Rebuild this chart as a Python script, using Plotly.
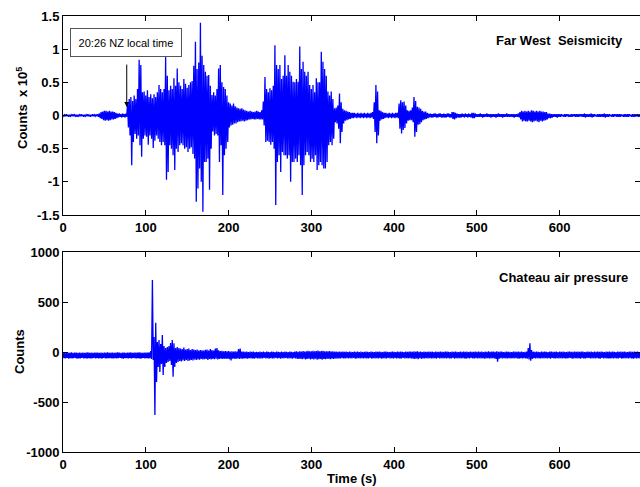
import numpy as np
import plotly.graph_objects as go

# Sample times (s), one envelope reading every 2 s
SAMPLE_STEP = 2
N_SAMPLES = 350

# Far West seismicity envelope, units of 1e3 counts (upper / lower extreme per 2 s)
SEIS_HI = [
    1, 1, 2, 1, 1, 1, 2, 1, 1, 1,
    1, 2, 1, 1, 1, 2, 1, 1, 2, 1,
    1, 2, 3, 5, 6, 7, 7, 6, 7, 6,
    6, 5, 4, 3, 3, 2, 3, 2, 3, 20,
    25, 28, 22, 30, 25, 40, 84, 76, 35, 36,
    30, 38, 28, 32, 26, 32, 28, 35, 46, 40,
    35, 40, 88, 60, 38, 45, 40, 56, 45, 71,
    50, 45, 40, 55, 48, 42, 46, 50, 52, 75,
    111, 70, 80, 140, 90, 76, 66, 60, 61, 45,
    31, 35, 30, 40, 71, 76, 50, 43, 40, 30,
    20, 18, 15, 18, 14, 12, 11, 10, 11, 9,
    8, 7, 6, 7, 6, 5, 6, 7, 6, 5,
    8, 21, 58, 40, 35, 41, 38, 45, 106, 76,
    70, 76, 55, 60, 91, 60, 76, 66, 60, 51,
    50, 55, 51, 104, 70, 81, 66, 60, 66, 46,
    40, 46, 35, 56, 50, 50, 96, 81, 70, 60,
    36, 30, 36, 25, 11, 12, 15, 33, 20, 10,
    8, 7, 6, 5, 4, 4, 4, 3, 4, 3,
    4, 3, 4, 3, 4, 3, 4, 5, 20, 46,
    36, 8, 7, 5, 4, 4, 3, 4, 3, 4,
    3, 4, 4, 18, 23, 20, 21, 15, 8, 7,
    8, 12, 28, 22, 13, 12, 10, 7, 6, 6,
    4, 3, 3, 2, 3, 3, 2, 3, 3, 2,
    3, 2, 3, 3, 2, 5, 5, 4, 3, 2,
    2, 3, 2, 3, 2, 3, 2, 4, 4, 3,
    2, 2, 3, 2, 2, 2, 3, 2, 2, 2,
    2, 2, 2, 3, 2, 2, 2, 2, 3, 2,
    2, 2, 2, 2, 2, 3, 5, 7, 6, 7,
    6, 7, 6, 8, 7, 6, 7, 6, 7, 6,
    6, 5, 5, 3, 3, 2, 2, 2, 2, 2,
    2, 2, 1, 2, 2, 2, 1, 2, 2, 2,
    2, 2, 2, 2, 2, 3, 2, 2, 2, 3,
    2, 2, 1, 2, 2, 2, 2, 3, 2, 2,
    2, 1, 2, 2, 2, 2, 2, 2, 1, 2,
    2, 2, 2, 1, 2, 2, 2, 2, 2, 2,
]
SEIS_LO = [
    -1, -1, -1, -2, -1, -1, -1, -1, -2, -1,
    -1, -1, -2, -1, -1, -1, -2, -1, -1, -1,
    -1, -2, -4, -5, -7, -8, -7, -8, -7, -6,
    -6, -5, -4, -3, -2, -3, -2, -3, -2, -18,
    -30, -75, -40, -28, -35, -30, -45, -62, -35, -30,
    -32, -44, -30, -35, -49, -38, -30, -35, -40, -45,
    -40, -45, -97, -85, -45, -50, -60, -82, -50, -55,
    -45, -42, -45, -50, -48, -55, -50, -48, -58, -65,
    -130, -110, -80, -100, -145, -70, -70, -65, -112, -50,
    -24, -30, -28, -30, -70, -45, -120, -60, -50, -40,
    -18, -15, -14, -12, -12, -10, -9, -9, -8, -9,
    -8, -7, -6, -6, -5, -6, -6, -5, -6, -6,
    -6, -15, -40, -38, -40, -44, -40, -50, -135, -70,
    -60, -85, -55, -60, -60, -65, -60, -100, -70, -70,
    -65, -70, -60, -75, -120, -75, -60, -55, -60, -70,
    -65, -70, -60, -82, -75, -70, -75, -80, -80, -70,
    -45, -40, -45, -35, -10, -12, -20, -42, -25, -12,
    -8, -7, -6, -5, -4, -4, -3, -4, -3, -4,
    -3, -4, -3, -4, -3, -4, -3, -5, -25, -42,
    -30, -8, -6, -5, -4, -3, -4, -3, -4, -3,
    -4, -3, -4, -20, -27, -22, -19, -12, -8, -7,
    -7, -10, -32, -25, -14, -13, -10, -7, -6, -5,
    -4, -3, -3, -3, -2, -3, -3, -2, -3, -3,
    -3, -3, -2, -3, -3, -5, -6, -4, -3, -3,
    -3, -2, -3, -2, -3, -2, -3, -4, -4, -2,
    -2, -2, -2, -3, -2, -2, -2, -2, -3, -2,
    -2, -3, -2, -2, -2, -3, -2, -2, -2, -2,
    -2, -2, -3, -2, -2, -3, -6, -9, -8, -9,
    -9, -8, -9, -10, -9, -8, -9, -10, -8, -9,
    -8, -7, -6, -4, -4, -3, -2, -2, -3, -2,
    -2, -1, -2, -2, -1, -2, -2, -2, -1, -2,
    -2, -2, -1, -2, -2, -3, -2, -2, -2, -3,
    -2, -1, -2, -2, -2, -2, -2, -3, -2, -2,
    -1, -2, -2, -1, -2, -2, -2, -1, -2, -2,
    -2, -2, -1, -2, -2, -2, -1, -2, -2, -2,
]

# Chateau air pressure envelope, counts (upper / lower extreme per 2 s)
AIR_HI = [
    -8, -5, -10, -6, -8, -4, -9, -7, -5, -8,
    -6, -9, -5, -8, -7, -4, -8, -6, -9, -5,
    -7, -5, -8, -6, -9, -5, -7, -4, -8, -6,
    -5, -8, -6, -4, -7, -9, -5, -6, -8, -5,
    -6, -4, -8, -5, -7, -6, -3, -5, -8, -6,
    -5, -6, -3, 10, 720, 150, 293, 100, 120, 80,
    170, 60, 40, 50, 60, 90, 120, 87, 40, 50,
    40, 35, 30, 45, 25, 30, 35, 20, 30, 25,
    20, 25, 15, 20, 18, 15, 22, 25, 15, 30,
    20, 15, 35, 40, 18, 10, 12, 8, 10, 6,
    10, 5, 8, 5, 6, 4, 30, 35, 5, 3,
    2, 4, 0, 3, 1, 5, 0, 2, -2, 3,
    0, 3, -2, 4, 1, -1, 5, 2, 0, 3,
    2, -1, 4, 0, 3, 1, -2, 5, 2, 0,
    3, 6, 2, 8, 4, 10, 5, 8, 12, 6,
    8, 12, 6, 10, 14, 7, 9, 11, 6, 8,
    6, 9, 4, 7, 3, 5, 2, 4, 1, 3,
    1, 3, 0, 4, 2, -1, 3, 1, 4, 0,
    3, 0, 2, 5, 1, -1, 4, 2, 0, 3,
    1, 4, 2, 0, 3, 5, 1, -1, 2, 4,
    2, 0, 3, 1, 5, 2, -1, 4, 1, 3,
    4, 1, 6, 3, 8, 2, 5, 0, 3, 1,
    2, 4, 1, 3, 0, 5, 2, 1, 4, 2,
    1, 3, 5, 2, 0, 4, 1, 3, 2, 0,
    3, 1, 4, 2, 5, 0, 3, 2, 1, 4,
    2, 5, 1, 3, 0, 4, 2, 6, 1, 3,
    4, 2, 8, 1, 3, 5, 0, 2, 4, 1,
    2, 0, 3, 5, 1, 4, 2, 3, 0, 2,
    5, 40, 87, 20, 3, 1, 4, 2, 0, 3,
    1, 4, 2, 0, 3, 5, 1, 2, 4, 0,
    3, 1, 4, 2, 0, 3, 5, 1, 2, 4,
    2, 4, 1, 3, 5, 0, 2, 4, 1, 3,
    0, 3, 2, 5, 1, 4, 2, 0, 3, 1,
    4, 1, 3, 2, 0, 5, 2, 3, 1, 4,
    2, 0, 3, 4, 1, 3, 2, 5, 0, 2,
]
AIR_LO = [
    -62, -65, -60, -66, -61, -64, -62, -60, -66, -63,
    -64, -60, -63, -62, -66, -61, -63, -65, -60, -64,
    -61, -64, -62, -66, -60, -63, -65, -61, -62, -64,
    -63, -61, -65, -62, -60, -64, -66, -62, -61, -63,
    -62, -65, -60, -64, -63, -61, -66, -63, -60, -64,
    -62, -64, -63, -70, -80, -630, -300, -150, -200, -120,
    -230, -150, -110, -100, -90, -130, -247, -150, -110, -100,
    -90, -95, -85, -90, -80, -90, -85, -80, -85, -75,
    -80, -75, -78, -70, -75, -72, -70, -80, -70, -75,
    -70, -72, -68, -75, -70, -68, -70, -66, -70, -68,
    -72, -85, -68, -66, -70, -65, -70, -68, -66, -64,
    -64, -66, -62, -65, -63, -66, -62, -64, -63, -65,
    -63, -60, -65, -62, -66, -61, -64, -63, -60, -65,
    -62, -66, -61, -64, -60, -65, -63, -62, -66, -61,
    -64, -68, -70, -66, -72, -68, -75, -70, -68, -74,
    -70, -75, -68, -78, -72, -70, -76, -69, -73, -70,
    -68, -72, -66, -70, -64, -67, -63, -65, -62, -64,
    -63, -61, -65, -62, -64, -60, -66, -63, -61, -64,
    -62, -65, -61, -64, -63, -60, -66, -62, -64, -61,
    -64, -62, -66, -61, -63, -65, -60, -64, -62, -63,
    -61, -64, -62, -66, -63, -60, -65, -62, -64, -61,
    -63, -66, -70, -64, -72, -62, -68, -63, -65, -62,
    -64, -61, -65, -63, -62, -66, -60, -64, -62, -63,
    -62, -65, -61, -64, -63, -60, -66, -62, -64, -61,
    -63, -61, -64, -66, -62, -65, -60, -63, -64, -62,
    -65, -62, -64, -61, -66, -63, -62, -64, -65, -61,
    -63, -70, -97, -66, -62, -64, -61, -65, -63, -62,
    -64, -62, -65, -61, -63, -66, -62, -64, -61, -63,
    -66, -75, -87, -70, -62, -64, -61, -63, -65, -62,
    -63, -61, -64, -62, -66, -60, -63, -65, -62, -64,
    -62, -65, -61, -63, -64, -62, -60, -66, -63, -61,
    -64, -62, -66, -61, -63, -65, -62, -60, -64, -63,
    -61, -64, -62, -63, -66, -60, -65, -62, -63, -64,
    -63, -61, -64, -62, -65, -63, -60, -66, -62, -63,
    -62, -64, -61, -63, -66, -62, -64, -61, -63, -65,
]

SEIS_TICKS = [-1.5, -1, -0.5, 0, 0.5, 1, 1.5]
SEIS_TICKTEXT = ["-1.5", "-1", "-0.5", "0", "0.5", "1", "1.5"]
AIR_TICKS = [-1000, -500, 0, 500, 1000]
AIR_TICKTEXT = ["-1000", "-500", "0", "500", "1000"]
X_TICKS = [0, 100, 200, 300, 400, 500, 600]

for arr in (SEIS_HI, SEIS_LO, AIR_HI, AIR_LO):
    assert len(arr) == N_SAMPLES, len(arr)

t = np.arange(N_SAMPLES) * SAMPLE_STEP


def zigzag(hi, lo):
    """Draw each 2 s envelope reading as one up-stroke and one down-stroke."""
    x = np.empty(2 * N_SAMPLES)
    y = np.empty(2 * N_SAMPLES)
    x[0::2] = t
    x[1::2] = t + SAMPLE_STEP / 2
    y[0::2] = hi
    y[1::2] = lo
    return x, y


sx, sy = zigzag(np.array(SEIS_HI) / 100.0, np.array(SEIS_LO) / 100.0)  # -> units of 1e5
ax_, ay_ = zigzag(np.array(AIR_HI, float), np.array(AIR_LO, float))

BLUE = "#0000FF"
FONT = "Liberation Sans, Arial, sans-serif"

fig = go.Figure()
fig.add_trace(go.Scatter(x=sx, y=sy, mode="lines", line=dict(color=BLUE, width=1.3),
                         xaxis="x", yaxis="y", showlegend=False, hoverinfo="skip"))
fig.add_trace(go.Scatter(x=ax_, y=ay_, mode="lines", line=dict(color=BLUE, width=1.3),
                         xaxis="x2", yaxis="y2", showlegend=False, hoverinfo="skip"))

W, H = 640, 487
L, R, T, B = 63, 0, 16, 35
plot_h = H - T - B
top_dom = [(452 - 215) / plot_h, 1.0]
bot_dom = [0.0, (452 - 252) / plot_h]

axis_common = dict(
    showline=True, linecolor="black", linewidth=1, mirror="ticks",
    ticks="inside", ticklen=5, tickcolor="black", tickwidth=1,
    showgrid=False, zeroline=False,
    tickfont=dict(family=FONT, size=13, color="black", weight="bold"),
)
XMAX = 697

fig.update_layout(
    width=W, height=H,
    margin=dict(l=L, r=R, t=T, b=B),
    paper_bgcolor="white", plot_bgcolor="white",
    font=dict(family=FONT, color="black"),
    xaxis=dict(domain=[0, 1], anchor="y", range=[0, XMAX], tickvals=X_TICKS, **axis_common),
    yaxis=dict(domain=top_dom, anchor="x", range=[-1.5, 1.5], tickvals=SEIS_TICKS,
               ticktext=SEIS_TICKTEXT, **axis_common),
    xaxis2=dict(domain=[0, 1], anchor="y2", range=[0, XMAX], tickvals=X_TICKS, **axis_common),
    yaxis2=dict(domain=bot_dom, anchor="x2", range=[-1000, 1000], tickvals=AIR_TICKS,
                ticktext=AIR_TICKTEXT, **axis_common),
)

pw = W - L - R


def px_to_paper_x(px):
    return (px - L) / pw


def px_to_paper_y(py):
    return (H - B - py) / plot_h


bold13 = dict(family=FONT, size=13, color="black", weight="bold")
annotations = [
    dict(text="Counts&nbsp; x 10<sup>5</sup>", textangle=-90, x=px_to_paper_x(22), y=px_to_paper_y(108),
         xref="paper", yref="paper", showarrow=False, font=bold13, xanchor="center", yanchor="middle"),
    dict(text="Counts", textangle=-90, x=px_to_paper_x(19), y=px_to_paper_y(352),
         xref="paper", yref="paper", showarrow=False, font=bold13, xanchor="center", yanchor="middle"),
    dict(text="Time (s)", x=px_to_paper_x(352), y=px_to_paper_y(478),
         xref="paper", yref="paper", showarrow=False, font=bold13, xanchor="center", yanchor="middle"),
    dict(text="Far West&nbsp; Seismicity", x=px_to_paper_x(625), y=px_to_paper_y(40),
         xref="paper", yref="paper", showarrow=False, font=bold13, xanchor="right", yanchor="middle"),
    dict(text="Chateau air pressure", x=px_to_paper_x(630), y=px_to_paper_y(277),
         xref="paper", yref="paper", showarrow=False, font=bold13, xanchor="right", yanchor="middle"),
    dict(text="20:26 NZ local time", x=px_to_paper_x(126), y=px_to_paper_y(42.5),
         xref="paper", yref="paper", showarrow=False,
         font=dict(family=FONT, size=11, color="black"),
         xanchor="center", yanchor="middle", width=108, height=25,
         bordercolor="#555555", borderwidth=1, borderpad=1, bgcolor="white"),
    dict(x=77, y=0.13, ax=77, ay=0.79, xref="x", yref="y", axref="x", ayref="y",
         showarrow=True, arrowhead=2, arrowsize=1, arrowwidth=1, arrowcolor="black", text=""),
]
fig.update_layout(annotations=annotations)

# Remove the browser's default 8 px body margin so the figure sits at the page origin,
# and hide the mode bar so nothing overlays the chart.
fig.write_html(
    "out.html",
    config={"displayModeBar": False},
    post_script="document.body.style.margin='0';document.body.style.overflow='hidden';",
)
